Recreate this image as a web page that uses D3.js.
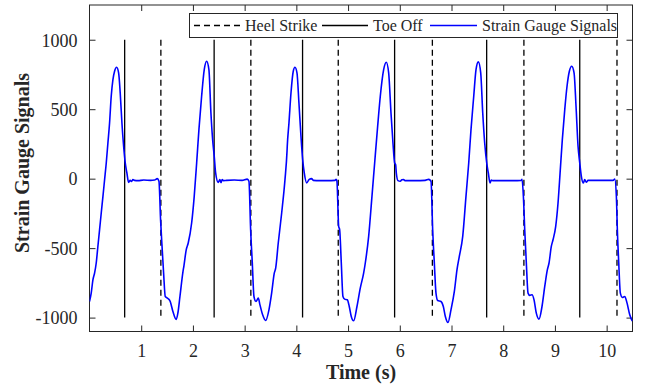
<!DOCTYPE html>
<html>
<head>
<meta charset="utf-8">
<script src="https://cdn.jsdelivr.net/npm/d3@7"></script>
<style>
  body { margin: 0; background: #fff; }
  svg text { font-family: "Liberation Serif", "Times New Roman", serif; fill: #262626; }
</style>
</head>
<body>
<div id="chart"></div>
<script>
// event times (s)
const heelStrike = [1.38, 3.12, 4.81, 6.63, 8.40, 10.20];
const toeOff = [0.68, 2.41, 4.12, 5.90, 7.68, 9.48];

const xTicks = [1, 2, 3, 4, 5, 6, 7, 8, 9, 10];
const yTicks = [-1000, -500, 0, 500, 1000];

const legendNames = ["Heel Strike", "Toe Off", "Strain Gauge Signals"];

// strain gauge signal [time, value]
const signal = [
    [0, -884], [0.033, -824], [0.066, -728], [0.098, -680], [0.13, -607], [0.162, -488], [0.195, -367],
    [0.227, -247], [0.26, -127], [0.292, -7], [0.324, 113], [0.356, 257], [0.388, 401], [0.42, 593],
    [0.453, 713], [0.485, 773], [0.524, 802], [0.563, 761], [0.594, 617], [0.627, 401], [0.66, 233],
    [0.691, 113], [0.723, 41], [0.756, -27], [0.787, -12], [0.81, -20], [0.84, -7], [0.87, -12],
    [0.936, -14], [1.05, -10], [1.18, -12], [1.259, -10], [1.31, 0],
    [1.343, -19], [1.375, -300], [1.40, -470], [1.433, -680], [1.465, -848], [1.516, -862], [1.561, -884],
    [1.613, -956], [1.677, -1013], [1.71, -965], [1.749, -848], [1.807, -670], [1.826, -627], [1.87, -512],
    [1.909, -463], [1.975, -319], [2.025, -127], [2.072, 113], [2.116, 353], [2.168, 593], [2.219, 785],
    [2.265, 845], [2.309, 785], [2.348, 473], [2.381, 281], [2.412, 161], [2.439, 41], [2.489, -27],
    [2.52, -7], [2.545, -29], [2.565, -7], [2.59, -14], [2.65, -12], [2.8, -10], [2.95, -12], [3.05, -3],
    [3.083, -19], [3.116, -367], [3.148, -607], [3.18, -848], [3.219, -884], [3.264, -860], [3.296, -908],
    [3.348, -980], [3.406, -1021], [3.47, -944], [3.522, -824], [3.573, -680], [3.6, -644], [3.65, -463],
    [3.716, -247], [3.78, -7], [3.82, 200], [3.824, 233], [3.857, 401], [3.896, 617], [3.94, 773],
    [3.973, 802], [4.012, 761], [4.05, 545], [4.089, 305], [4.122, 137], [4.153, 41], [4.2, -31],
    [4.244, -7], [4.296, 0], [4.327, -12], [4.45, -14], [4.6, -14], [4.747, -12], [4.77, -4],
    [4.785, -19], [4.818, -343], [4.837, -367], [4.869, -607], [4.901, -848], [4.934, -867], [4.985, -872],
    [5.023, -920], [5.062, -992], [5.108, -1023], [5.172, -920], [5.236, -788], [5.301, -680], [5.333, -607],
    [5.398, -415], [5.462, -127], [5.514, 113], [5.572, 377], [5.623, 593], [5.688, 785], [5.739, 838],
    [5.785, 761], [5.83, 473], [5.868, 257], [5.901, 113], [5.92, 100], [5.933, 41], [5.965, -14],
    [6.01, -19], [6.04, -8], [6.075, -7], [6.1, -14], [6.3, -14], [6.49, -12], [6.56, -5],
    [6.604, -19], [6.636, -367], [6.668, -607], [6.7, -824], [6.733, -877], [6.797, -884], [6.842, -920],
    [6.881, -992], [6.932, -1035], [6.99, -944], [7.055, -812], [7.106, -656], [7.151, -560], [7.217, -415],
    [7.28, -127], [7.333, 113], [7.377, 353], [7.43, 593], [7.474, 785], [7.519, 841], [7.565, 761],
    [7.604, 473], [7.642, 257], [7.681, 113], [7.712, 41], [7.745, -31], [7.77, -10], [7.797, -14],
    [8.0, -14], [8.2, -14], [8.344, -12], [8.364, -5],
    [8.39, -127], [8.416, -367], [8.447, -607], [8.48, -824], [8.513, -840], [8.557, -836], [8.596, -872],
    [8.64, -968], [8.692, -1011], [8.75, -920], [8.803, -776], [8.853, -656], [8.886, -607], [8.93, -488],
    [8.963, -440], [9.015, -343], [9.06, -175], [9.104, 65], [9.143, 281], [9.19, 497], [9.234, 665],
    [9.279, 773], [9.325, 809], [9.37, 761], [9.408, 521], [9.447, 233], [9.48, 113], [9.511, 17],
    [9.55, -31], [9.576, -7], [9.607, -26], [9.64, -12], [9.8, -12], [10.0, -12], [10.124, -12], [10.157, -2],
    [10.188, -127], [10.207, -367], [10.234, -607], [10.265, -824], [10.304, -855], [10.35, -848],
    [10.395, -896], [10.447, -980], [10.492, -1021], [10.5, -1025]
];

var width = 651,
    height = 388,
    margin = {top: 5, right: 18.5, bottom: 56.5, left: 89.5},
    innerW = width - margin.left - margin.right,
    innerH = height - margin.top - margin.bottom,
    axisColor = "#262626",
    tickLen = 6;

var svg = d3.select("#chart")
    .append("svg")
    .attr("width", width)
    .attr("height", height);

var g = svg.append("g")
    .attr("transform", `translate(${margin.left},${margin.top})`);

var x = d3.scaleLinear().domain([0, 10.5]).range([0, innerW]);
var y = d3.scaleLinear().domain([-1100, 1250]).range([innerH, 0]);

g.append("clipPath").attr("id", "clip")
    .append("rect").attr("width", innerW).attr("height", innerH);

// axes (MATLAB style: ticks inward, box on), plain hyphen minus
var plain = d => String(d);

function styleAxis(sel) {
    sel.select(".domain").remove();
    sel.selectAll(".tick line").attr("stroke", axisColor);
    sel.selectAll(".tick text").style("font-size", "18px").attr("fill", axisColor);
}

g.append("g")
    .attr("transform", `translate(0,${innerH})`)
    .call(d3.axisBottom(x).tickValues(xTicks).tickSize(-tickLen).tickPadding(13).tickFormat(plain))
    .call(styleAxis);

g.append("g")
    .call(d3.axisTop(x).tickValues(xTicks).tickSize(-tickLen).tickFormat(""))
    .call(styleAxis);

g.append("g")
    .call(d3.axisLeft(y).tickValues(yTicks).tickSize(-tickLen).tickPadding(12).tickFormat(plain))
    .call(styleAxis)
    .selectAll(".tick text").attr("dy", "0.35em");

g.append("g")
    .attr("transform", `translate(${innerW},0)`)
    .call(d3.axisRight(y).tickValues(yTicks).tickSize(-tickLen).tickFormat(""))
    .call(styleAxis);

g.append("rect")
    .attr("width", innerW)
    .attr("height", innerH)
    .attr("fill", "none")
    .attr("stroke", axisColor)
    .attr("stroke-width", 1);

// event lines
g.selectAll(".heel")
    .data(heelStrike)
    .enter().append("line")
    .attr("class", "heel")
    .attr("x1", d => x(d)).attr("x2", d => x(d))
    .attr("y1", y(1000)).attr("y2", y(-1000))
    .attr("stroke", "#000")
    .attr("stroke-width", 1.3)
    .attr("stroke-dasharray", "6,4");

g.selectAll(".toe")
    .data(toeOff)
    .enter().append("line")
    .attr("class", "toe")
    .attr("x1", d => x(d)).attr("x2", d => x(d))
    .attr("y1", y(1000)).attr("y2", y(-1000))
    .attr("stroke", "#000")
    .attr("stroke-width", 1.3);

// signal
var line = d3.line()
    .x(d => x(d[0]))
    .y(d => y(d[1]))
    .curve(d3.curveMonotoneX);

g.append("path")
    .datum(signal)
    .attr("clip-path", "url(#clip)")
    .attr("fill", "none")
    .attr("stroke", "#0000ff")
    .attr("stroke-width", 1.6)
    .attr("d", line);

// axis labels
svg.append("text")
    .attr("x", margin.left + innerW / 2)
    .attr("y", 379)
    .attr("text-anchor", "middle")
    .style("font-size", "20px")
    .style("font-weight", "bold")
    .text("Time (s)");

svg.append("text")
    .attr("transform", "translate(29,163) rotate(-90)")
    .attr("text-anchor", "middle")
    .style("font-size", "20px")
    .style("font-weight", "bold")
    .text("Strain Gauge Signals");

// legend
var legendItems = [
    {name: legendNames[0], x0: 194, x1: 240, color: "#000", dash: "6,4", w: 1.3},
    {name: legendNames[1], x0: 322, x1: 368, color: "#000", dash: null, w: 1.3},
    {name: legendNames[2], x0: 430, x1: 477, color: "#0000ff", dash: null, w: 1.6}
];

var legend = svg.append("g");
legend.append("rect")
    .attr("x", 189.5).attr("y", 13.5)
    .attr("width", 428).attr("height", 24)
    .attr("fill", "#fff")
    .attr("stroke", axisColor)
    .attr("stroke-width", 1);

var item = legend.selectAll(".item")
    .data(legendItems)
    .enter().append("g")
    .attr("class", "item");

item.append("line")
    .attr("x1", d => d.x0).attr("x2", d => d.x1)
    .attr("y1", 25.5).attr("y2", 25.5)
    .attr("stroke", d => d.color)
    .attr("stroke-width", d => d.w)
    .attr("stroke-dasharray", d => d.dash);

item.append("text")
    .attr("x", d => d.x1 + 5)
    .attr("y", 31)
    .style("font-size", "16px")
    .text(d => d.name);
</script>
</body>
</html>
